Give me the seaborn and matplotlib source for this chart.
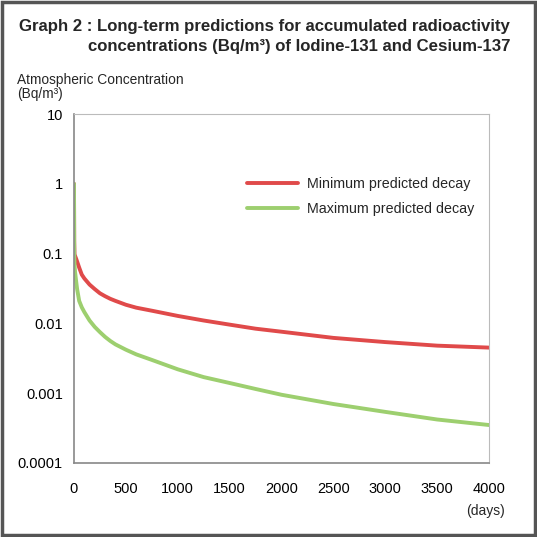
import numpy as np
import pandas as pd
import matplotlib
matplotlib.use("Agg")
import matplotlib.pyplot as plt
import seaborn as sns
from matplotlib.patches import Rectangle
from matplotlib.lines import Line2D

# values (Bq/m3)
days = [0, 2, 5, 10, 20, 30, 50, 75, 100, 150, 200, 250, 300, 350, 400, 500,
        600, 750, 1000, 1250, 1500, 1750, 2000, 2500, 3000, 3500, 4000]
min_decay = [1.0, 0.15, 0.097, 0.093, 0.085, 0.077, 0.063, 0.05, 0.044, 0.036,
             0.031, 0.027, 0.0245, 0.0225, 0.021, 0.0185, 0.0168, 0.0152,
             0.0128, 0.011, 0.0096, 0.0084, 0.0076, 0.0062, 0.0054, 0.0048,
             0.0045]
max_decay = [1.0, 0.1, 0.07, 0.055, 0.041, 0.031, 0.021, 0.017, 0.0145, 0.011,
             0.0089, 0.0075, 0.0064, 0.0056, 0.005, 0.0042, 0.0036, 0.003,
             0.0022, 0.0017, 0.0014, 0.00115, 0.00095, 0.0007, 0.00054,
             0.00042, 0.00035]
series_names = ["Minimum predicted decay", "Maximum predicted decay"]
y_ticks = [0.0001, 0.001, 0.01, 0.1, 1, 10]
y_labels = ["0.0001", "0.001", "0.01", "0.1", "1", "10"]
x_ticks = [0, 500, 1000, 1500, 2000, 2500, 3000, 3500, 4000]

df = pd.DataFrame({
    "days": days * 2,
    "conc": min_decay + max_decay,
    "series": [series_names[0]] * len(days) + [series_names[1]] * len(days),
})

sns.set_style("white")
plt.rcParams["font.family"] = ["Liberation Sans", "DejaVu Sans"]

fig = plt.figure(figsize=(5.37, 5.37), dpi=100)
ax = fig.add_axes([74 / 537, 1 - 463 / 537, 415 / 537, 349 / 537])

palette = {series_names[0]: "#e04a4a", series_names[1]: "#9dcf6f"}
# green drawn last so its vertical start covers the red one, as in the reference
sns.lineplot(data=df, x="days", y="conc", hue="series", palette=palette,
             hue_order=series_names, linewidth=2.8, ax=ax, legend=False)

ax.set_yscale("log")
ax.set_ylim(0.0001, 10)
ax.set_xlim(0, 4000)
ax.set_yticks(y_ticks)
ax.set_yticklabels(y_labels)
ax.minorticks_off()
ax.set_xticks(x_ticks)
ax.set_xlabel("")
ax.set_ylabel("")
ax.tick_params(direction="in", length=4, color="#888888", labelsize=10.5,
               labelcolor="black")
ax.tick_params(axis="x", pad=14)
ax.tick_params(axis="y", pad=8)
for side in ["left", "bottom"]:
    ax.spines[side].set_color("#888888")
    ax.spines[side].set_linewidth(1.2)
for side in ["top", "right"]:
    ax.spines[side].set_color("#bbbbbb")
    ax.spines[side].set_linewidth(0.8)

handles = [Line2D([], [], color=palette[n], lw=2.8) for n in series_names]
ax.legend(handles, series_names, loc="upper left", bbox_to_anchor=(0.385, 0.855),
          frameon=False, fontsize=10.3, handlelength=3.6, handletextpad=0.6,
          labelspacing=0.75)

fig.text(510 / 537, 1 - 31 / 537,
         "Graph 2 : Long-term predictions for accumulated radioactivity",
         ha="right", va="baseline", fontsize=12.1, fontweight="bold")
fig.text(510 / 537, 1 - 51 / 537,
         "concentrations (Bq/m³) of Iodine-131 and Cesium-137",
         ha="right", va="baseline", fontsize=12.1, fontweight="bold")
fig.text(17 / 537, 1 - 84 / 537, "Atmospheric Concentration", ha="left",
         va="baseline", fontsize=9.9)
fig.text(17 / 537, 1 - 98 / 537, "(Bq/m³)", ha="left", va="baseline",
         fontsize=9.9)
fig.text(505 / 537, 1 - 515 / 537, "(days)", ha="right", va="baseline",
         fontsize=10)

fig.patches.append(Rectangle((0.003, 0.003), 0.994, 0.994, transform=fig.transFigure,
                             fill=False, edgecolor="#555555", linewidth=2.5))

fig.savefig("out.png", dpi=100)
